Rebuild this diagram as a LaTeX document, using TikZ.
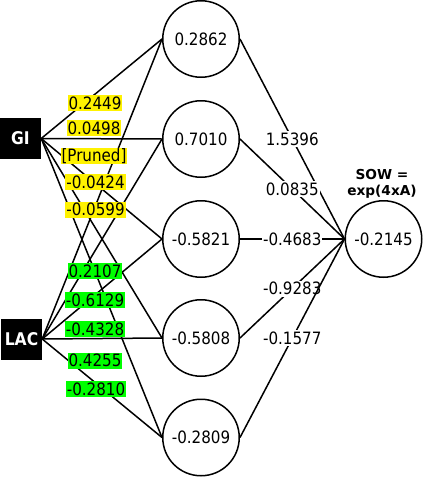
\documentclass[tikz,border=0pt]{standalone}
\usepackage{fontspec}
\setmainfont{DejaVu Sans}[FakeStretch=0.89]
\newfontfamily\sowfont{DejaVu Sans}
\tikzset{
  neuron/.style={circle, draw, line width=1.5pt, minimum size=76.5pt, inner sep=0pt, fill=white, font=\fontsize{17}{20}\selectfont},
  inbox/.style={fill=black, text=white, minimum size=41pt, inner sep=0pt, font=\fontsize{17.5}{20}\selectfont\bfseries},
  wgi/.style={fill=yellow, inner xsep=1pt, inner ysep=0pt, minimum height=16pt, font=\fontsize{17}{20}\selectfont},
  wlac/.style={wgi, fill=green},
  wout/.style={wgi, fill=white},
  conn/.style={line width=1.5pt}
}

\begin{document}
\begin{tikzpicture}[x=1pt, y=-1pt]
\useasboundingbox (0,0) rectangle (423,477);
\node[inbox] (gi) at (20.5,138.5) {GI};
\node[inbox] (lac) at (21.5,339) {LAC};
\node[neuron] (h1) at (201,39) {0.2862};
\node[neuron] (h2) at (201,139) {0.7010};
\node[neuron] (h3) at (201,239) {-0.5821};
\node[neuron] (h4) at (201,338) {-0.5808};
\node[neuron] (h5) at (201,437.5) {-0.2809};
\node[neuron] (sow) at (383.5,239) {-0.2145};
\node[align=center, font=\fontsize{13.7}{16}\sowfont\bfseries] (sowname) at (382,184) {SOW =\\exp(4xA)};
\draw[conn] (gi.east) -- (h1.west);
\draw[conn] (gi.east) -- (h2.west);
\draw[conn] (gi.east) -- (h3.west);
\draw[conn] (gi.east) -- (h4.west);
\draw[conn] (gi.east) -- (h5.west);
\draw[conn] (lac.east) -- (h1.west);
\draw[conn] (lac.east) -- (h2.west);
\draw[conn] (lac.east) -- (h3.west);
\draw[conn] (lac.east) -- (h4.west);
\draw[conn] (lac.east) -- (h5.west);
\draw[conn] (h1.east) -- node[wout] (o1) {1.5396} (sow.west);
\draw[conn] (h2.east) -- node[wout] (o2) {0.0835} (sow.west);
\draw[conn] (h3.east) -- node[wout] (o3) {-0.4683} (sow.west);
\draw[conn] (h4.east) -- node[wout] (o4) {-0.9283} (sow.west);
\draw[conn] (h5.east) -- node[wout] (o5) {-0.1577} (sow.west);
\node[wgi] (g1) at (95,103) {0.2449};
\node[wgi] (g2) at (94,128) {0.0498};
\node[wgi] (g3) at (94,156) {[Pruned]};
\node[wgi] (g4) at (95.5,182) {-0.0424};
\node[wgi] (g5) at (95.5,209.5) {-0.0599};
\node[wlac] (l1) at (95,271) {0.2107};
\node[wlac] (l2) at (95,300) {-0.6129};
\node[wlac] (l3) at (95,329) {-0.4328};
\node[wlac] (l4) at (95,360.5) {0.4255};
\node[wlac] (l5) at (96,389) {-0.2810};
\end{tikzpicture}
\end{document}
